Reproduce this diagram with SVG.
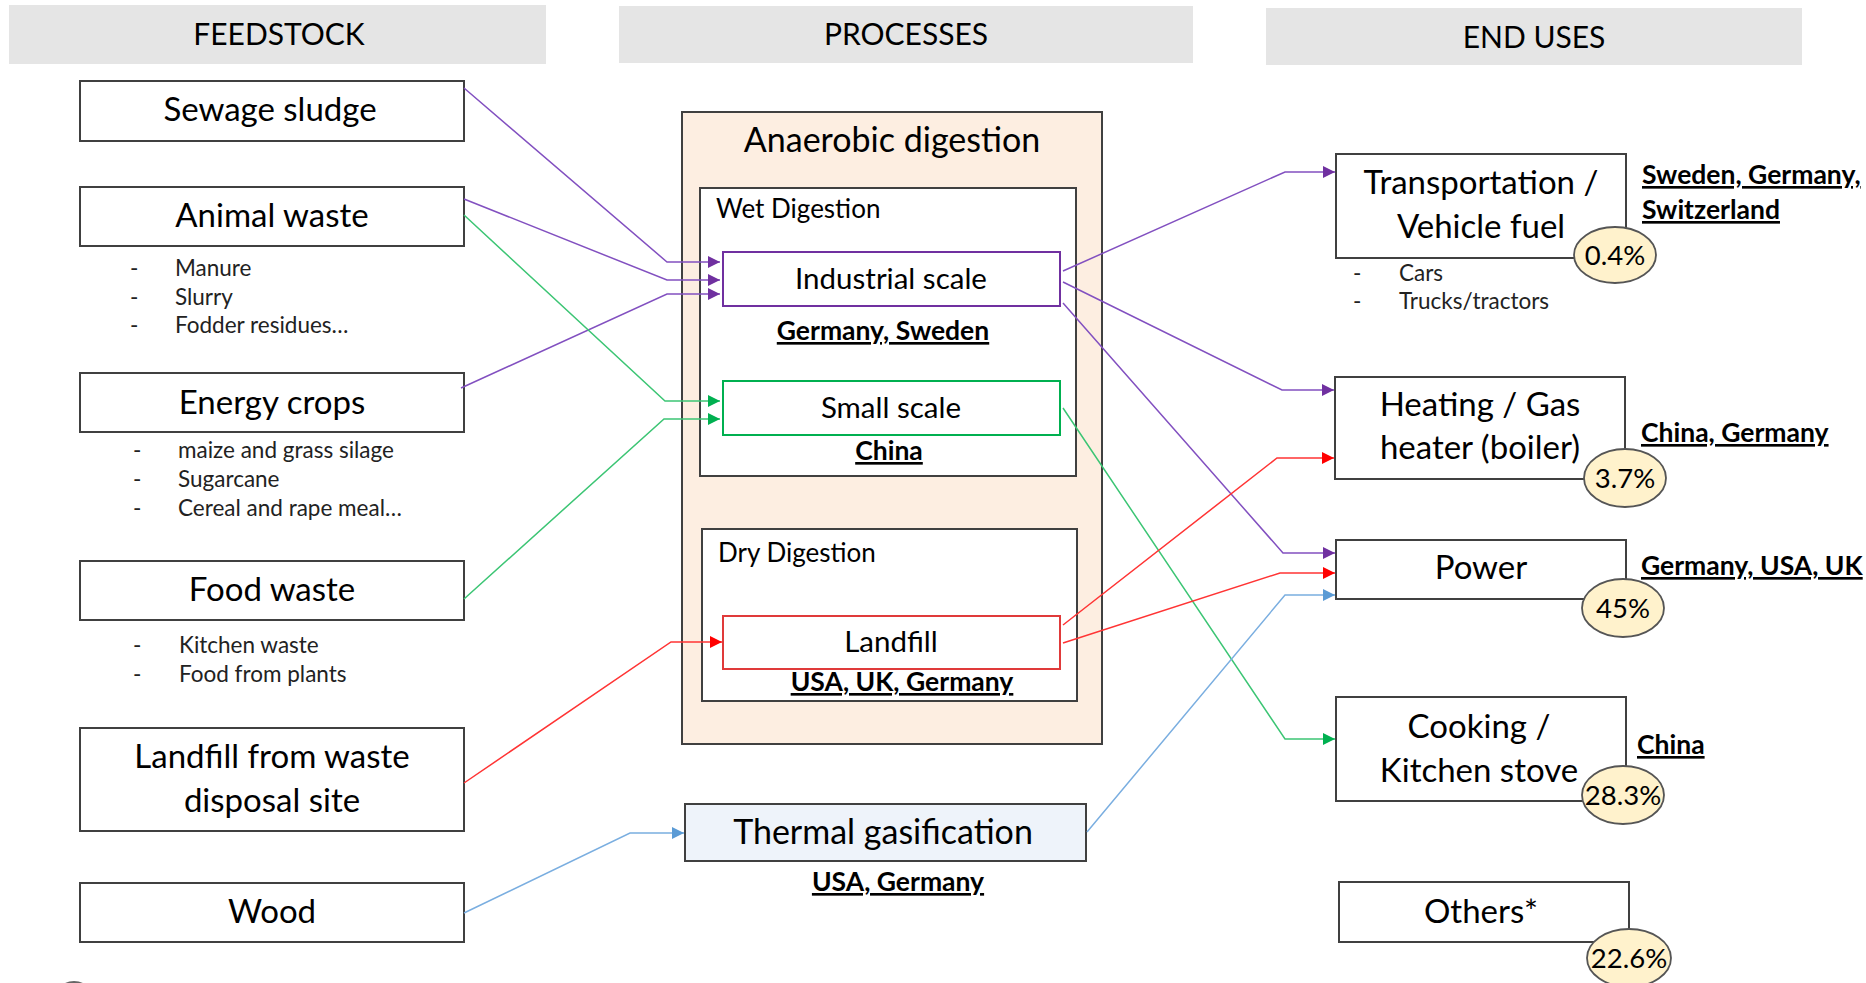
<svg xmlns="http://www.w3.org/2000/svg" width="1866" height="983" viewBox="0 0 1866 983">
<style>
text{font-family:Lato,"Liberation Sans",sans-serif;fill:#000}
.hdr{fill:#e5e5e5}
.hdrt{font-size:30px;text-anchor:middle}
.box{fill:#fff;stroke:#404040;stroke-width:2}
.lbl{font-size:33px;text-anchor:middle}
.bul{font-size:22.5px;fill:#222}
.sub{font-size:26px}
.inner{font-size:29.5px;text-anchor:middle}
.ctry{font-size:26.5px;font-weight:bold;text-decoration:underline}
.mid{text-anchor:middle}
.pct{fill:#fff2cc;stroke:#555;stroke-width:1.8}
.pctt{font-size:27.5px;text-anchor:middle}
.c{fill:none;stroke-width:1.5}
.pu{stroke:#8250c0}
.gr{stroke:#3cc574}
.rd{stroke:#ff3434}
.bl{stroke:#7aaee0}
</style>
<defs>
<marker id="aP" markerUnits="userSpaceOnUse" markerWidth="14" markerHeight="14" refX="12" refY="6" orient="auto"><path d="M0,0 L12,6 L0,12 Z" fill="#7030a0"/></marker>
<marker id="aG" markerUnits="userSpaceOnUse" markerWidth="14" markerHeight="14" refX="12" refY="6" orient="auto"><path d="M0,0 L12,6 L0,12 Z" fill="#00b050"/></marker>
<marker id="aR" markerUnits="userSpaceOnUse" markerWidth="14" markerHeight="14" refX="12" refY="6" orient="auto"><path d="M0,0 L12,6 L0,12 Z" fill="#ff0000"/></marker>
<marker id="aB" markerUnits="userSpaceOnUse" markerWidth="14" markerHeight="14" refX="12" refY="6" orient="auto"><path d="M0,0 L12,6 L0,12 Z" fill="#5b9bd5"/></marker>
</defs>

<g id="headers">
<rect class="hdr" x="9" y="5" width="537" height="59"/>
<text class="hdrt" x="279" y="45">FEEDSTOCK</text>
<rect class="hdr" x="619" y="6" width="574" height="57"/>
<text class="hdrt" x="906" y="45">PROCESSES</text>
<rect class="hdr" x="1266" y="8" width="536" height="57"/>
<text class="hdrt" x="1534" y="48">END USES</text>
</g>

<g id="feedstock-sewage">
<rect class="box" x="80" y="81" width="384" height="60"/>
<text class="lbl" x="270" y="121">Sewage sludge</text>
</g>
<g id="feedstock-animal">
<rect class="box" x="80" y="187" width="384" height="59"/>
<text class="lbl" x="272" y="227">Animal waste</text>
<text class="bul" x="130" y="276">-</text><text class="bul" x="175" y="276">Manure</text>
<text class="bul" x="130" y="305">-</text><text class="bul" x="175" y="305">Slurry</text>
<text class="bul" x="130" y="333">-</text><text class="bul" x="175" y="333">Fodder residues…</text>
</g>
<g id="feedstock-energy">
<rect class="box" x="80" y="373" width="384" height="59"/>
<text class="lbl" x="272" y="414">Energy crops</text>
<text class="bul" x="133" y="458">-</text><text class="bul" x="178" y="458">maize and grass silage</text>
<text class="bul" x="133" y="487">-</text><text class="bul" x="178" y="487">Sugarcane</text>
<text class="bul" x="133" y="516">-</text><text class="bul" x="178" y="516">Cereal and rape meal…</text>
</g>
<g id="feedstock-food">
<rect class="box" x="80" y="561" width="384" height="59"/>
<text class="lbl" x="272" y="601">Food waste</text>
<text class="bul" x="133" y="653">-</text><text class="bul" x="179" y="653">Kitchen waste</text>
<text class="bul" x="133" y="682">-</text><text class="bul" x="179" y="682">Food from plants</text>
</g>
<g id="feedstock-landfill">
<rect class="box" x="80" y="728" width="384" height="103"/>
<text class="lbl" x="272" y="768">Landfill from waste</text>
<text class="lbl" x="272" y="812">disposal site</text>
</g>
<g id="feedstock-wood">
<rect class="box" x="80" y="883" width="384" height="59"/>
<text class="lbl" x="272" y="923">Wood</text>
</g>
<g id="corner-mark">
<circle cx="74" cy="1001" r="19" fill="#efe6d2" stroke="#666" stroke-width="2"/>
</g>

<g id="anaerobic-digestion">
<rect x="682" y="112" width="420" height="632" fill="#fdeee1" stroke="#404040" stroke-width="2"/>
<text x="892" y="152" font-size="34" text-anchor="middle">Anaerobic digestion</text>
</g>
<g id="wet-digestion">
<rect class="box" x="700" y="188" width="376" height="288"/>
<text class="sub" x="716" y="218">Wet Digestion</text>
</g>
<g id="industrial-scale">
<rect x="723" y="252" width="337" height="54" fill="#fff" stroke="#7030a0" stroke-width="2"/>
<text class="inner" x="891" y="289">Industrial scale</text>
<text class="ctry mid" x="883" y="340">Germany, Sweden</text>
</g>
<g id="small-scale">
<rect x="723" y="381" width="337" height="54" fill="#fff" stroke="#00b050" stroke-width="2"/>
<text class="inner" x="891" y="418">Small scale</text>
<text class="ctry mid" x="889" y="460">China</text>
</g>
<g id="dry-digestion">
<rect class="box" x="702" y="529" width="375" height="172"/>
<text class="sub" x="718" y="562">Dry Digestion</text>
</g>
<g id="landfill-process">
<rect x="723" y="616" width="337" height="53" fill="#fff" stroke="#e03a3a" stroke-width="2"/>
<text class="inner" x="891" y="652">Landfill</text>
<text class="ctry mid" x="902" y="691">USA, UK, Germany</text>
</g>
<g id="thermal-gasification">
<rect x="685" y="804" width="401" height="57" fill="#eef3fa" stroke="#404040" stroke-width="2"/>
<text x="883" y="844" font-size="34" text-anchor="middle">Thermal gasification</text>
<text class="ctry mid" x="898" y="891">USA, Germany</text>
</g>

<g id="enduse-transport">
<rect class="box" x="1336" y="154" width="290" height="104"/>
<text class="lbl" x="1481" y="194">Transportation /</text>
<text class="lbl" x="1481" y="238">Vehicle fuel</text>
<ellipse class="pct" cx="1615" cy="255" rx="41" ry="28"/>
<text class="pctt" x="1615" y="265">0.4%</text>
<text class="bul" x="1353" y="281">-</text><text class="bul" x="1399" y="281">Cars</text>
<text class="bul" x="1353" y="309">-</text><text class="bul" x="1399" y="309">Trucks/tractors</text>
<text class="ctry" x="1642" y="184">Sweden, Germany,</text>
<text class="ctry" x="1642" y="219">Switzerland</text>
</g>
<g id="enduse-heating">
<rect class="box" x="1335" y="377" width="290" height="102"/>
<text class="lbl" x="1480" y="416">Heating / Gas</text>
<text class="lbl" x="1480" y="459">heater (boiler)</text>
<ellipse class="pct" cx="1625" cy="478" rx="41" ry="29"/>
<text class="pctt" x="1625" y="488">3.7%</text>
<text class="ctry" x="1641" y="442">China, Germany</text>
</g>
<g id="enduse-power">
<rect class="box" x="1336" y="540" width="290" height="59"/>
<text class="lbl" x="1481" y="579">Power</text>
<ellipse class="pct" cx="1623" cy="608" rx="41" ry="29"/>
<text class="pctt" x="1623" y="618">45%</text>
<text class="ctry" x="1641" y="575">Germany, USA, UK</text>
</g>
<g id="enduse-cooking">
<rect class="box" x="1336" y="697" width="290" height="104"/>
<text class="lbl" x="1479" y="738">Cooking /</text>
<text class="lbl" x="1479" y="782">Kitchen stove</text>
<ellipse class="pct" cx="1623" cy="795" rx="41" ry="29"/>
<text class="pctt" x="1623" y="805">28.3%</text>
<text class="ctry" x="1637" y="754">China</text>
</g>
<g id="enduse-others">
<rect class="box" x="1339" y="882" width="290" height="60"/>
<text class="lbl" x="1481" y="923">Others*</text>
<ellipse class="pct" cx="1629" cy="958" rx="42" ry="29"/>
<text class="pctt" x="1629" y="968">22.6%</text>
</g>

<g id="connectors">
<polyline class="c pu" points="464,88 667,262 720,262" marker-end="url(#aP)"/>
<polyline class="c pu" points="464,199 667,280 720,280" marker-end="url(#aP)"/>
<polyline class="c pu" points="461,388 667,294 720,294" marker-end="url(#aP)"/>
<polyline class="c gr" points="464,215 665,401 720,401" marker-end="url(#aG)"/>
<polyline class="c gr" points="464,599 664,419 720,419" marker-end="url(#aG)"/>
<polyline class="c rd" points="464,783 671,642 722,642" marker-end="url(#aR)"/>
<polyline class="c bl" points="464,913 630,833 684,833" marker-end="url(#aB)"/>
<polyline class="c pu" points="1063,271 1285,172 1335,172" marker-end="url(#aP)"/>
<polyline class="c pu" points="1063,282 1282,390 1334,390" marker-end="url(#aP)"/>
<polyline class="c pu" points="1063,303 1283,553 1335,553" marker-end="url(#aP)"/>
<polyline class="c gr" points="1063,408 1285,739 1335,739" marker-end="url(#aG)"/>
<polyline class="c rd" points="1063,625 1277,458 1334,458" marker-end="url(#aR)"/>
<polyline class="c rd" points="1063,643 1280,573 1335,573" marker-end="url(#aR)"/>
<polyline class="c bl" points="1087,832 1285,595 1335,595" marker-end="url(#aB)"/>
</g>
</svg>
